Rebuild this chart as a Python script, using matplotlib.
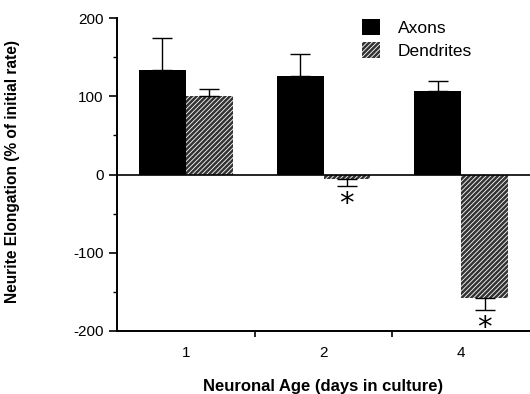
import numpy as np
import matplotlib.pyplot as plt
from matplotlib.ticker import MultipleLocator

ages = ["1", "2", "4"]
axons = [134, 126, 107]
axons_err = [40, 28, 13]
dendrites = [100, -6, -158]
dendrites_err = [9, 9, 15]
signif = [False, True, True]

plt.rcParams["font.family"] = ["Liberation Sans", "DejaVu Sans"]
plt.rcParams["axes.unicode_minus"] = False
plt.rcParams["hatch.color"] = "white"
plt.rcParams["hatch.linewidth"] = 0.6

fig = plt.figure(figsize=(5.3, 3.94), dpi=100)
ax = fig.add_axes([0.2208, 0.160, 0.7792, 0.794])

x = np.arange(len(ages))
w = 0.34


def one_sided(vals, errs):
    vals = np.asarray(vals)
    errs = np.asarray(errs)
    lower = np.where(vals < 0, errs, 0)
    upper = np.where(vals >= 0, errs, 0)
    return [lower, upper]


ax.bar(x - w / 2, axons, w, color="black", label="Axons", zorder=2)
ax.bar(x + w / 2, dendrites, w, color="#333333", hatch="///////",
       label="Dendrites", zorder=2)
ax.errorbar(x - w / 2, axons, yerr=one_sided(axons, axons_err), fmt="none",
            ecolor="black", elinewidth=1, capsize=7, capthick=1, zorder=3)
ax.errorbar(x + w / 2, dendrites, yerr=one_sided(dendrites, dendrites_err),
            fmt="none", ecolor="black", elinewidth=1, capsize=7, capthick=1,
            zorder=3)

for xi, v, e, s in zip(x, dendrites, dendrites_err, signif):
    if s:
        ax.text(xi + w / 2, v - e - 5, "*", ha="center", va="top",
                fontsize=21, family="DejaVu Sans")

ax.axhline(0, color="black", lw=1.2, zorder=4)

ax.set_xlim(-0.5, 2.5)
ax.set_ylim(-200, 200)
ax.set_yticks([-200, -100, 0, 100, 200])
ax.yaxis.set_minor_locator(MultipleLocator(50))
ax.set_xticks([0.5, 1.5])
ax.set_xticklabels([])
ax.set_xticks(x, minor=True)
ax.set_xticklabels(ages, minor=True)
ax.tick_params(axis="x", which="minor", length=0, pad=11, labelsize=11)
ax.tick_params(axis="x", which="major", length=4, width=1.2, direction="out")
ax.tick_params(axis="y", which="major", length=6, width=1.2, labelsize=11)
ax.tick_params(axis="y", which="minor", length=3, width=1)

for side in ("top", "right"):
    ax.spines[side].set_visible(False)
for side in ("left", "bottom"):
    ax.spines[side].set_linewidth(1.4)

ax.set_xlabel("Neuronal Age (days in culture)", fontweight="bold",
              fontsize=12)
ax.xaxis.set_label_coords(0.5, -0.155)
ax.set_ylabel("Neurite Elongation (% of initial rate)", fontweight="bold",
              fontsize=11.2)
ax.yaxis.set_label_coords(-0.235, 0.51)

ax.legend(loc="upper left", bbox_to_anchor=(0.593, 0.997), frameon=False,
          fontsize=12.5, borderpad=0, borderaxespad=0, handlelength=1.05,
          handleheight=1.05, handletextpad=1.0, labelspacing=0.35)

fig.savefig("out.png", dpi=100)
